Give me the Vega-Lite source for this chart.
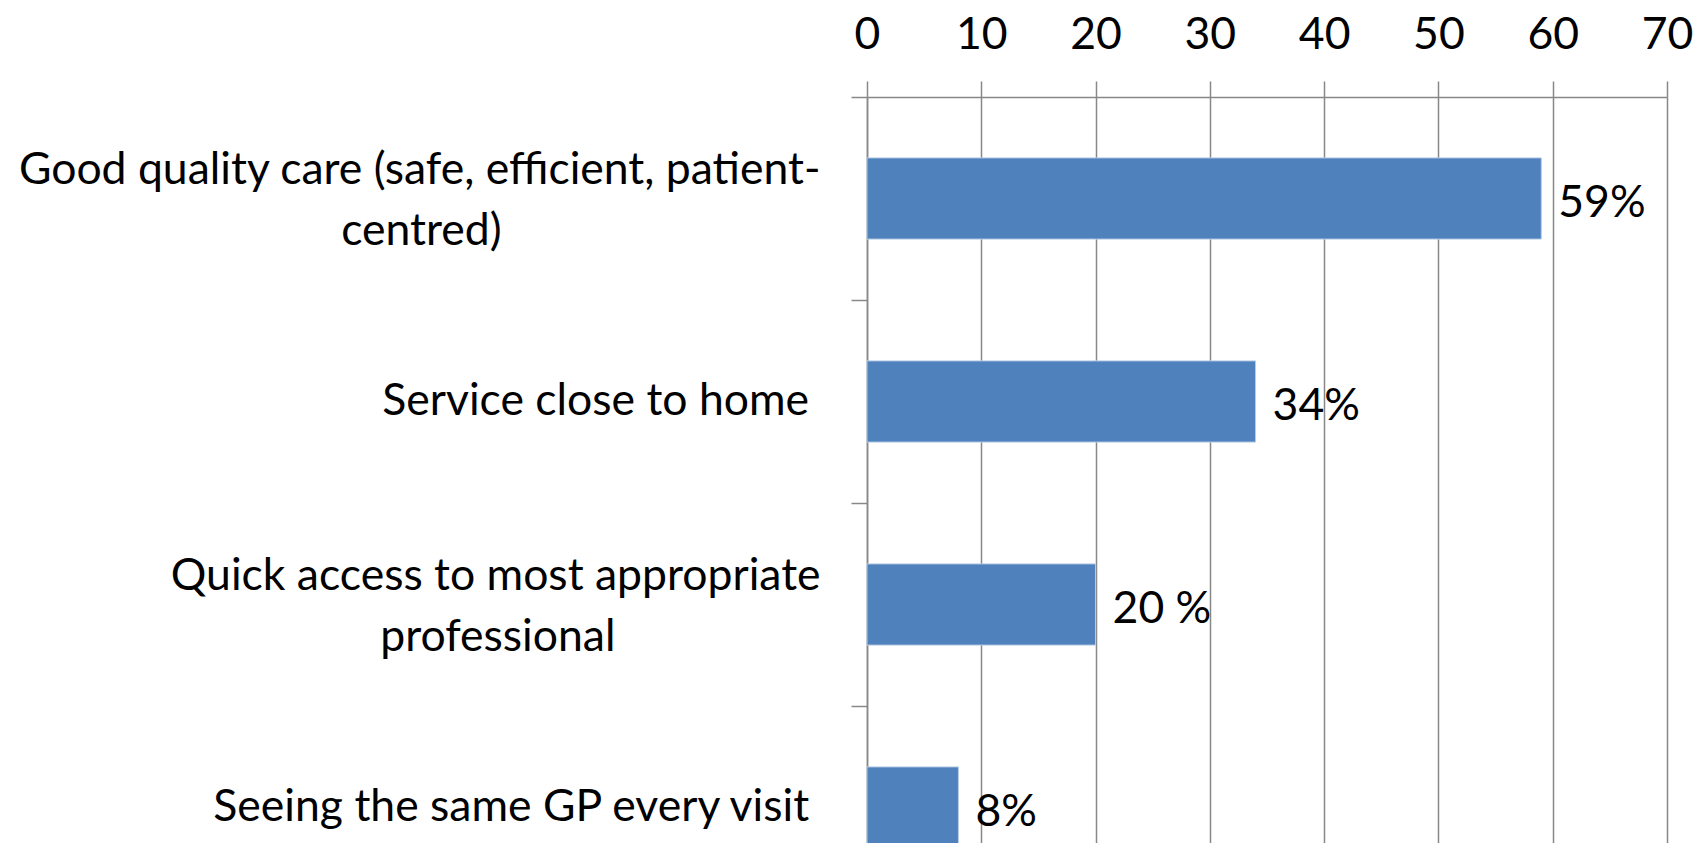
{
  "$schema": "https://vega.github.io/schema/vega-lite/v6.json",
  "autosize": {"type": "none"},
  "padding": {"left": 867, "top": 97, "right": 29, "bottom": 0},
  "width": 800,
  "height": 746,
  "background": "white",
  "config": {
    "view": {"stroke": null},
    "font": "Lato",
    "axis": {"labelFont": "Lato", "labelColor": "black", "labelFontSize": 44.5, "labelFontWeight": "normal"}
  },
  "data": {
    "values": [
      {"reason": "Good quality care (safe, efficient, patient-centred)", "value": 59, "label": "59%"},
      {"reason": "Service close to home", "value": 34, "label": "34%"},
      {"reason": "Quick access to most appropriate professional", "value": 20, "label": "20 %"},
      {"reason": "Seeing the same GP every visit", "value": 8, "label": "8%"}
    ]
  },
  "encoding": {
    "y": {
      "field": "reason",
      "type": "nominal",
      "sort": null,
      "scale": {"range": [0, 812], "paddingInner": 0, "paddingOuter": 0},
      "axis": {
        "title": null,
        "orient": "left",
        "tickSize": 16,
        "tickOffset": -101.5,
        "labelOffset": {
          "condition": {"test": "datum.value == 'Good quality care (safe, efficient, patient-centred)' || datum.value == 'Quick access to most appropriate professional'", "value": 73},
          "value": 101.5
        },
        "tickColor": "#888888",
        "tickWidth": 1.5,
        "domainColor": "#888888",
        "domainWidth": 1.5,
        "labelPadding": 31,
        "labelAlign": "right",
        "labelBaseline": "middle",
        "labelLineHeight": 61,
        "labelLimit": 0,
        "grid": false,
        "labelExpr": "datum.value == 'Good quality care (safe, efficient, patient-centred)' ? ['Good quality care (safe, efficient, patient-', pad('centred)', 36, '\u00a0') + '\u200b'] : datum.value == 'Quick access to most appropriate professional' ? ['Quick access to most appropriate', pad('professional', 30, '\u00a0') + '\u200b'] : datum.value + '\u00a0\u200b'"
      }
    }
  },
  "layer": [
    {
      "mark": {"type": "bar", "color": "#4F81BD", "height": {"band": 0.4}, "stroke": "#B9CDE5", "strokeWidth": 1},
      "encoding": {
        "x": {
          "field": "value",
          "type": "quantitative",
          "scale": {"domain": [0, 70], "nice": false},
          "axis": {
            "title": null,
            "orient": "top",
            "values": [0, 10, 20, 30, 40, 50, 60, 70],
            "tickSize": 16,
            "tickColor": "#888888",
            "tickWidth": 1.5,
            "domainColor": "#888888",
            "domainWidth": 1.5,
            "grid": true,
            "gridColor": "#888888",
            "gridWidth": 1.5,
            "gridOpacity": 1,
            "labelPadding": 33,
            "labelBaseline": "alphabetic",
            "labelFlush": false,
            "labelFontSize": 44.5
          }
        }
      }
    },
    {
      "mark": {"type": "text", "align": "left", "baseline": "middle", "dx": 17, "dy": 5, "font": "Lato", "fontSize": 44.5, "color": "black"},
      "encoding": {
        "x": {"field": "value", "type": "quantitative"},
        "text": {"field": "label"}
      }
    }
  ]
}
